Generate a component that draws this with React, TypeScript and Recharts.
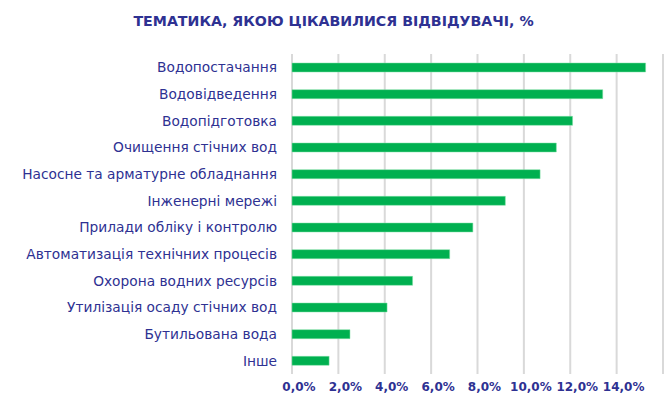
import React from 'react'
import { BarChart, Bar, XAxis, YAxis, CartesianGrid } from 'recharts'

const topics = [
    'Водопостачання',
    'Водовідведення',
    'Водопідготовка',
    'Очищення стічних вод',
    'Насосне та арматурне обладнання',
    'Інженерні мережі',
    'Прилади обліку і контролю',
    'Автоматизація технічних процесів',
    'Охорона водних ресурсів',
    'Утилізація осаду стічних вод',
    'Бутильована вода',
    'Інше',
]
const shares = [15.25, 13.4, 12.1, 11.4, 10.7, 9.2, 7.8, 6.8, 5.2, 4.1, 2.5, 1.6]
const xTicks = [0, 2, 4, 6, 8, 10, 12, 14, 16]

const data = topics.map((topic, i) => ({ topic, share: shares[i] }))

const navy = '#2e3192'
const fmt = (v: number) => (v === 16 ? '' : v.toFixed(1).replace('.', ',') + '%')

export default function App() {
    return (
        <div style={{ position: 'absolute', left: 0, top: 0, width: 670, height: 397, background: '#fff', fontFamily: 'DejaVu Sans, Verdana, sans-serif' }}>
            <div style={{ position: 'absolute', top: 13, left: 133, width: 401, textAlign: 'center', fontSize: 14.2, fontWeight: 'bold', color: navy, whiteSpace: 'nowrap' }}>
                ТЕМАТИКА, ЯКОЮ ЦІКАВИЛИСЯ ВІДВІДУВАЧІ, %
            </div>
            <BarChart
                width={670}
                height={397}
                data={data}
                layout="vertical"
                margin={{ top: 54, right: 7, bottom: 0, left: 0 }}
                barCategoryGap={0}
            >
                <CartesianGrid horizontal={false} stroke="#d9d9d9" strokeWidth={2} />
                <XAxis
                    type="number"
                    domain={[0, 16]}
                    ticks={xTicks}
                    tickFormatter={fmt}
                    axisLine={false}
                    tickLine={false}
                    height={23}
                    tick={{ fill: navy, fontSize: 12, fontWeight: 'bold', dx: 7 }}
                    interval={0}
                />
                <YAxis
                    type="category"
                    dataKey="topic"
                    width={292}
                    axisLine={false}
                    tickLine={false}
                    tickSize={8}
                    tickMargin={7}
                    tick={{ fill: navy, fontSize: 13.75 }}
                    interval={0}
                />
                <Bar dataKey="share" fill="#00b050" stroke="#7ee0a4" strokeWidth={0.5} barSize={9} isAnimationActive={false} />
            </BarChart>
        </div>
    )
}
